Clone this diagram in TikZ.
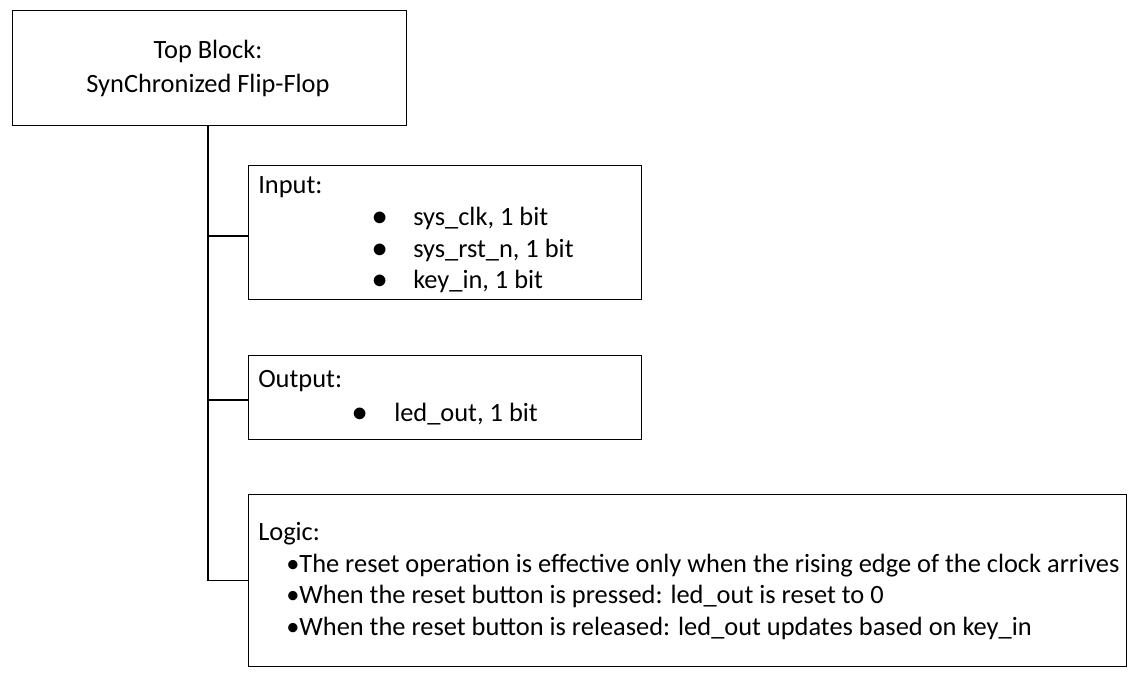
\documentclass[tikz,border=0pt]{standalone}
\usepackage{fontspec}
\setmainfont{Carlito}
\usetikzlibrary{calc}

\begin{document}
\begin{tikzpicture}[x=0.75pt,y=-0.75pt,
		caixa/.style={draw, line width=1.1pt, inner sep=0pt},
		texto/.style={anchor=base west, inner sep=0pt, font=\fontsize{19.8}{24}\selectfont},
		ponto/.style={anchor=base, inner sep=0pt, font=\fontsize{19.8}{24}\selectfont}]
			\useasboundingbox (0,0) rectangle (1136,679);
			
			%desenhando as caixas
			\node[caixa, minimum width=295.5pt, minimum height=86.25pt, anchor=north west] (top) at (12,10) {};
			\node[caixa, minimum width=294.75pt, minimum height=100.5pt, anchor=north west] (input) at (248,165) {};
			\node[caixa, minimum width=294.75pt, minimum height=63pt, anchor=north west] (output) at (248,355) {};
			\node[caixa, minimum width=658.5pt, minimum height=129pt, anchor=north west] (logic) at (248,494) {};
			
			%desenhando ligacoes
			\draw[line width=1.1pt] (top.south -| 208,0) |- (logic.west);
			\draw[line width=1.1pt] (208,236) -- (input.west |- 0,236);
			\draw[line width=1.1pt] (208,400) -- (output.west |- 0,400);
			
			%texto da caixa de topo
			\node[ponto] (t1) at (208,58) {Top Block:};
			\node[ponto] (t2) at (208,92) {SynChronized Flip-Flop};
			
			%texto de entrada
			\node[texto] (in0) at (258,193) {Input:};
			\node[ponto] (b1) at (380,225) {\scalebox{1.1}{$\bullet$}};
			\node[texto] (in1) at (413,225) {sys\_clk, 1 bit};
			\node[ponto] (b2) at (380,257) {\scalebox{1.1}{$\bullet$}};
			\node[texto] (in2) at (413,257) {sys\_rst\_n, 1 bit};
			\node[ponto] (b3) at (380,288) {\scalebox{1.1}{$\bullet$}};
			\node[texto] (in3) at (413,288) {key\_in, 1 bit};
			
			%texto de saida
			\node[texto] (out0) at (258,387) {Output:};
			\node[ponto] (b4) at (360,421) {\scalebox{1.1}{$\bullet$}};
			\node[texto] (out1) at (394,421) {led\_out, 1 bit};
			
			%texto da logica
			\node[texto] (lg0) at (258,540) {Logic:};
			\node[texto] (lg1) at (286,572) {\textbullet The reset operation is effective only when the rising edge of the clock arrives};
			\node[texto] (lg2) at (286,603) {\textbullet When the reset button is pressed: led\_out is reset to 0};
			\node[texto] (lg3) at (286,635) {\textbullet When the reset button is released: led\_out updates based on key\_in};
		\end{tikzpicture}
\end{document}
